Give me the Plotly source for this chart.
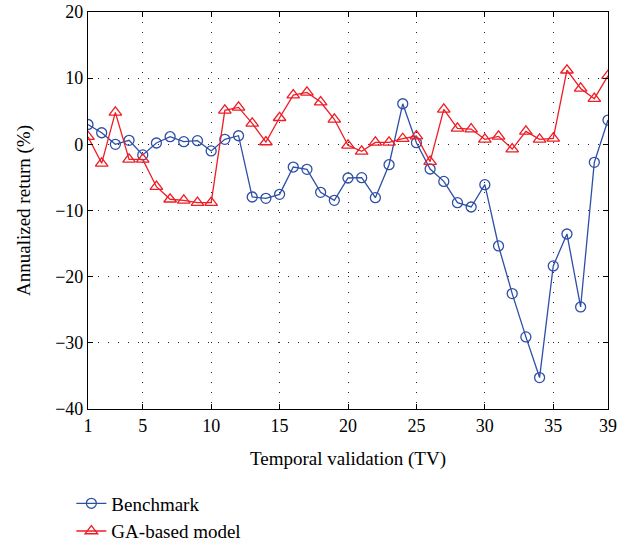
import plotly.graph_objects as go

tv = list(range(1, 40))
benchmark = [3.0, 1.75, 0.0, 0.6, -1.6, 0.2, 1.15, 0.4, 0.55, -1.0,
             0.75, 1.3, -7.96, -8.16, -7.56, -3.43, -3.78, -7.25, -8.46, -5.09,
             -5.04, -8.06, -3.08, 6.13, 0.25, -3.73, -5.6, -8.82, -9.47, -6.1,
             -15.36, -22.56, -29.1, -35.25, -18.38, -13.55, -24.58, -2.72, 3.67]
ga_model = [1.15, -2.87, 4.83, -2.27, -2.27, -6.4, -8.3, -8.46, -8.8, -8.8,
            5.13, 5.58, 3.17, 0.35, 4.02, 7.45, 7.85, 6.39, 3.78, -0.15,
            -1.06, 0.3, 0.3, 0.85, 1.25, -2.62, 5.28, 2.42, 2.31, 0.75,
            1.2, -0.71, 1.96, 0.75, 0.9, 11.2, 8.45, 6.9, 10.37]
x_ticks = [1, 5, 10, 15, 20, 25, 30, 35, 39]
y_ticks = [20, 10, 0, -10, -20, -30, -40]

blue = "#2E4FA6"
red = "#EE1C25"
font = "Liberation Serif"

fig = go.Figure()
fig.add_trace(go.Scatter(
    x=tv, y=benchmark, name="Benchmark", mode="lines+markers",
    line=dict(color=blue, width=1.3),
    marker=dict(symbol="circle-open", size=10, color=blue, line=dict(width=1.3)),
))
fig.add_trace(go.Scatter(
    x=tv, y=ga_model, name="GA-based model", mode="lines+markers",
    line=dict(color=red, width=1.3),
    marker=dict(symbol="triangle-up-open", size=11, color=red, line=dict(width=1.3)),
))

axis_common = dict(
    showline=True, linecolor="black", linewidth=1.2, mirror="ticks",
    ticks="inside", ticklen=5, tickcolor="black", tickwidth=1,
    showgrid=True, gridcolor="#222222", griddash="1px,9px", gridwidth=1,
    zeroline=False, automargin=False,
    tickfont=dict(family=font, size=18, color="black"),
)

fig.update_layout(
    width=634, height=548,
    margin=dict(l=88, r=26, t=12, b=139, autoexpand=False),
    paper_bgcolor="white", plot_bgcolor="white",
    font=dict(family=font, size=18, color="black"),
    xaxis=dict(range=[1, 39], tickvals=x_ticks,
               title=dict(text="Temporal validation (TV)", standoff=16,
                          font=dict(family=font, size=19)),
               **axis_common),
    yaxis=dict(range=[-40, 20], tickvals=y_ticks,
               ticktext=["20", "10", "0", "\u221210", "\u221220", "\u221230", "\u221240"],
               title=dict(text="Annualized return (%)", standoff=19,
                          font=dict(family=font, size=19)),
               **axis_common),
    legend=dict(x=-0.032, y=-0.19, xanchor="left", yanchor="top",
                orientation="v", font=dict(family=font, size=19),
                bgcolor="rgba(0,0,0,0)", tracegroupgap=0, itemwidth=30),
)

fig.write_html("out.html", config={"displayModeBar": False},
               post_script="document.body.style.margin='0px';document.body.style.padding='0px';")
